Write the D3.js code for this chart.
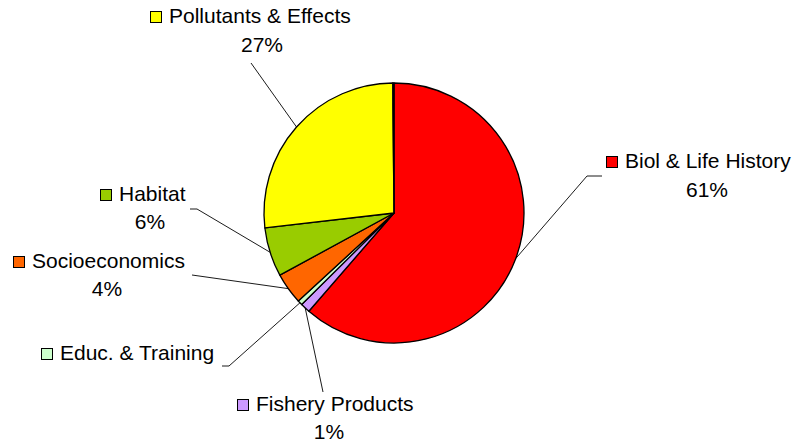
<!DOCTYPE html>
<html>
<head>
<meta charset="utf-8">
<script src="https://cdn.jsdelivr.net/npm/d3@7"></script>
<style>
  html, body { margin: 0; padding: 0; background: #fff; }
  svg { display: block; }
  text { font-family: "Liberation Sans", Arial, sans-serif; font-size: 21px; fill: #000; }
</style>
</head>
<body>
<svg id="chart" width="801" height="445"></svg>
<script>
// ---- data ----
const categories = ["Biol & Life History", "Fishery Products", "Educ. & Training", "Socioeconomics", "Habitat", "Pollutants & Effects", "Other"];
const values     = [61.4, 1.2, 0.6, 3.9, 6.1, 26.7, 0.15];
const pctLabels  = ["61%", "1%", "", "4%", "6%", "27%", ""];
const colors     = ["#FF0000", "#CC99FF", "#CCFFCC", "#FF6600", "#99CC00", "#FFFF00", "#FFFFFF"];

// ---- layout (label placement) ----
const labelLayout = [
  { keyX: 606, y1: 168, pctX: 707, y2: 197, leader: [[602, 176], [587, 176]] },
  { keyX: 237, y1: 411, pctX: 329, y2: 439, leader: [[323, 392]] },
  { keyX: 41,  y1: 360, pctX: null, y2: null, leader: [[222, 366], [229, 366]] },
  { keyX: 13,  y1: 268, pctX: 107, y2: 296, leader: [[192, 275]] },
  { keyX: 100, y1: 201, pctX: 150, y2: 229, leader: [[190, 209], [197, 209]] },
  { keyX: 150, y1: 23,  pctX: 262, y2: 52,  leader: [[251, 63]] },
  null
];

const cx = 394, cy = 213, r = 130;
const svg = d3.select("#chart");
const g = svg.append("g").attr("transform", `translate(${cx},${cy})`);

const pie = d3.pie().sort(null).value(d => d.v).startAngle(0).endAngle(2 * Math.PI);
const data = categories.map((c, i) => ({ c, v: values[i], p: pctLabels[i], color: colors[i], lay: labelLayout[i] }));
const arcs = pie(data);
const arc = d3.arc().innerRadius(0).outerRadius(r);

g.selectAll("path.slice").data(arcs).enter().append("path")
  .attr("class", "slice")
  .attr("d", arc)
  .attr("fill", d => d.data.color)
  .attr("stroke", "#000")
  .attr("stroke-width", 1.3)
  .attr("stroke-linejoin", "round");

// leader lines
const line = d3.line();
arcs.forEach(a => {
  const lay = a.data.lay;
  if (!lay) return;
  const mid = (a.startAngle + a.endAngle) / 2;
  const edge = [cx + r * Math.sin(mid), cy - r * Math.cos(mid)];
  const pts = lay.leader.concat([edge]);
  svg.append("path").attr("d", line(pts)).attr("fill", "none")
    .attr("stroke", "#000").attr("stroke-width", 0.9);
});

// labels
arcs.forEach(a => {
  const lay = a.data.lay;
  if (!lay) return;
  svg.append("rect")
    .attr("x", lay.keyX + 0.5).attr("y", lay.y1 - 11.5)
    .attr("width", 11).attr("height", 11)
    .attr("fill", a.data.color).attr("stroke", "#000").attr("stroke-width", 1);
  svg.append("text").attr("x", lay.keyX + 19).attr("y", lay.y1).text(a.data.c);
  if (a.data.p && lay.pctX !== null) {
    svg.append("text").attr("x", lay.pctX).attr("y", lay.y2)
      .attr("text-anchor", "middle").text(a.data.p);
  }
});
</script>
</body>
</html>
